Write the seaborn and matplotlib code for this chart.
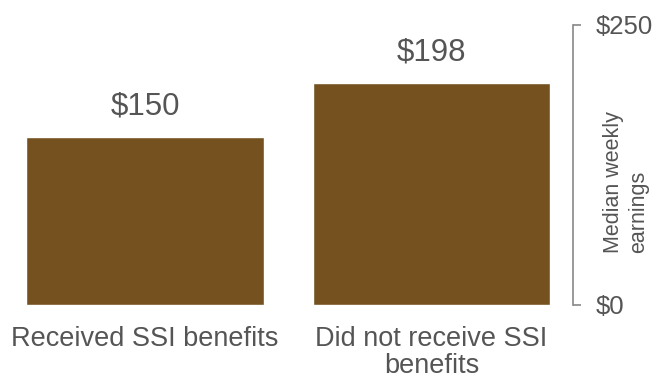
import matplotlib
matplotlib.use("Agg")
import matplotlib.pyplot as plt
import seaborn as sns
import pandas as pd

categories = ["Received SSI benefits", "Did not receive SSI\nbenefits"]
earnings = [150, 198]
tick_values = [0, 250]
tick_labels = ["$0", "$250"]
axis_label = "Median weekly\nearnings"

sns.set_theme(style="white")
plt.rcParams["font.family"] = ["Liberation Sans", "DejaVu Sans"]

W, H = 657, 379
text_color = "#555555"
bar_color = "#74511f"

df = pd.DataFrame({"group": categories, "earnings": earnings})

fig = plt.figure(figsize=(W / 100, H / 100), dpi=100)
ax = fig.add_axes([2 / W, 1 - 305 / H, 571 / W, 280 / H])

sns.barplot(data=df, x="group", y="earnings", color=bar_color,
            saturation=1, width=0.83, ax=ax)

ax.set_ylim(0, 250)
ax.set_xlim(-0.5, 1.494)

for i, v in enumerate(earnings):
    ax.annotate(f"${v}", (i, v), xytext=(0, 11), textcoords="offset points",
                ha="center", va="bottom", fontsize=22.5, color=text_color)

for s in ["top", "left", "bottom"]:
    ax.spines[s].set_visible(False)
ax.spines["right"].set_color("#888888")
ax.spines["right"].set_linewidth(1.2)

ax.yaxis.tick_right()
ax.set_yticks(tick_values)
ax.set_yticklabels(tick_labels)
ax.tick_params(axis="y", which="major", right=True, direction="out",
               length=5.5, width=1.2, color="#888888", pad=11,
               labelsize=18.5, labelcolor=text_color)
ax.tick_params(axis="x", length=0, pad=15, labelsize=19.5, labelcolor=text_color)
for lbl in ax.get_xticklabels():
    lbl.set_linespacing(1.05)

ax.set_xlabel("")
ax.set_ylabel("")

# rotated axis title sitting between the two tick labels
fig.text(626 / W, 1 - 182 / H, axis_label, rotation=90,
         ha="center", va="center", multialignment="left",
         fontsize=15.5, color=text_color, linespacing=1.25)

fig.savefig("out.png", dpi=100)
